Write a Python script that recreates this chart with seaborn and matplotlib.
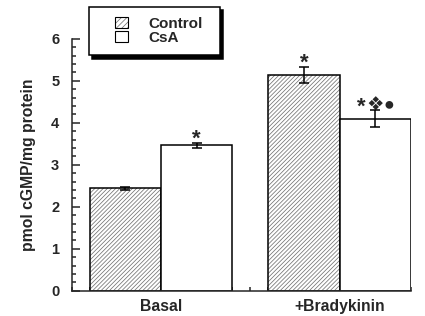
import matplotlib
matplotlib.use("Agg")
import matplotlib.pyplot as plt
import matplotlib.colors as mcolors
from matplotlib.patches import Patch, Rectangle
from matplotlib.legend_handler import HandlerPatch
from matplotlib.ticker import MultipleLocator
import pandas as pd
import seaborn as sns

# values
conditions = ["Basal", "+Bradykinin"]
groups = ["Control", "CsA"]
control_vals = [2.44, 5.15]
csa_vals = [3.46, 4.10]
control_err = [0.03, 0.19]
csa_err = [0.07, 0.20]
control_marks = ["", "*"]
csa_marks = ["*", "*\u2756\u25cf"]

df = pd.DataFrame({
    "condition": conditions * 2,
    "group": [groups[0]] * 2 + [groups[1]] * 2,
    "value": control_vals + csa_vals,
})

sns.set_style("ticks")
plt.rcParams["font.family"] = ["Liberation Sans", "DejaVu Sans"]
plt.rcParams["font.weight"] = "bold"
plt.rcParams["hatch.linewidth"] = 0.55

fig, ax = plt.subplots(figsize=(4.25, 3.16), dpi=100)
fig.subplots_adjust(left=0.169, right=0.967, bottom=0.080, top=0.877)

sns.barplot(data=df, x="condition", y="value", hue="group", hue_order=groups,
            palette=["white", "white"], saturation=1, edgecolor="black",
            linewidth=1.1, width=0.8, errorbar=None, legend=False, ax=ax)

hatch_grey = mcolors.to_rgba("0.45")
for bar in ax.containers[0]:
    bar.set_hatch("////////")
    bar._hatch_color = hatch_grey

# symbol style: (font size, vertical shift in points)
sym_style = {"*": (16, -1.5), "\u2756": (14, 0.5), "\u25cf": (13, 1.0)}

# error bars and significance marks
for cont, errs, marks in zip(ax.containers, [control_err, csa_err], [control_marks, csa_marks]):
    xs = [b.get_x() + b.get_width() / 2 for b in cont]
    ys = [b.get_height() for b in cont]
    ax.errorbar(xs, ys, yerr=errs, fmt="none", ecolor="black",
                elinewidth=1.1, capsize=3.5, capthick=1.1, zorder=5)
    for x, y, e, m in zip(xs, ys, errs, marks):
        n = len(m)
        for i, ch in enumerate(m):
            size, dy = sym_style[ch]
            dx = (i - (n - 1) / 2) * 10
            ax.annotate(ch, xy=(x, y + e), xytext=(dx, dy), textcoords="offset points",
                        ha="center", va="baseline", fontsize=size, fontweight="bold")

ax.set_xlim(-0.5, 1.4)
ax.set_ylim(0, 6)
ax.yaxis.set_major_locator(MultipleLocator(1))
ax.yaxis.set_minor_locator(MultipleLocator(0.2))
ax.xaxis.set_minor_locator(MultipleLocator(0.1))
ax.tick_params(axis="both", which="both", direction="in", width=1.1)
ax.tick_params(axis="y", which="major", length=6, labelsize=10.5, pad=9)
ax.tick_params(axis="y", which="minor", length=3)
ax.tick_params(axis="x", which="major", length=0, labelsize=11.3, pad=6)
ax.tick_params(axis="x", which="minor", length=3)
for lab in ax.get_xticklabels() + ax.get_yticklabels():
    lab.set_fontweight("bold")
for s in ["left", "bottom"]:
    ax.spines[s].set_linewidth(1.1)
sns.despine(ax=ax)

ax.set_xlabel("")
ax.set_ylabel("pmol cGMP/mg protein", fontsize=11.3, fontweight="bold", labelpad=11)


def square_patch(legend, orig_handle, xdescent, ydescent, width, height, fontsize):
    return Rectangle((-xdescent + width - height * 1.18, -ydescent), height * 1.18, height)


handles = [Patch(facecolor="white", edgecolor="black", hatch="//////", linewidth=0.8),
           Patch(facecolor="white", edgecolor="black", linewidth=0.8)]
leg = ax.legend(handles, groups, loc="upper left",
                bbox_to_anchor=(0.05, 0.5, 0.386, 0.627), mode="expand",
                borderaxespad=0, fontsize=11, handlelength=1.9, handleheight=0.72,
                handletextpad=1.37, labelspacing=0.0, borderpad=0.66,
                fancybox=False, framealpha=1, edgecolor="black",
                shadow={"ox": 2.5, "oy": -2.5, "color": "black", "alpha": 1},
                handler_map={Patch: HandlerPatch(patch_func=square_patch)})
leg.get_frame().set_linewidth(1.1)
for t in leg.get_texts():
    t.set_fontweight("bold")
leg.legend_handles[0]._hatch_color = hatch_grey

fig.savefig("out.png", dpi=100)
